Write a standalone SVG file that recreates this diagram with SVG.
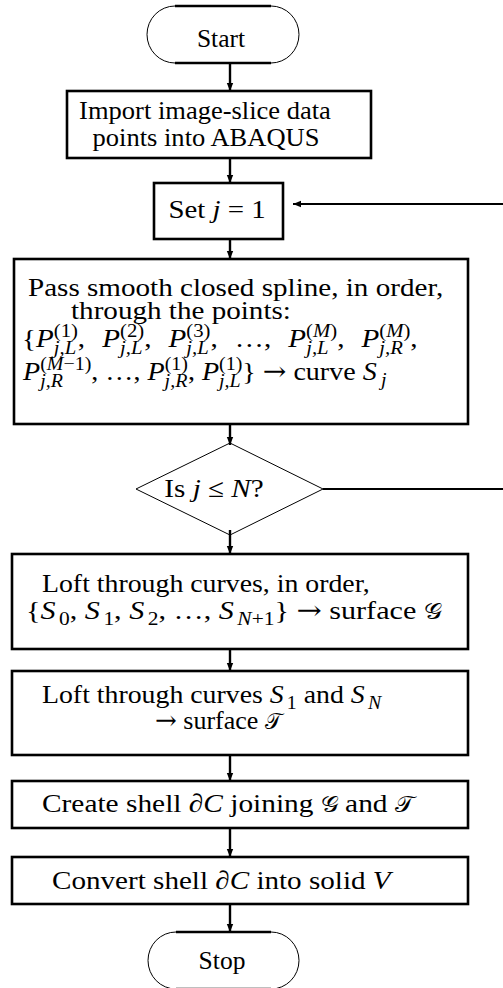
<svg xmlns="http://www.w3.org/2000/svg" width="503" height="988" viewBox="0 0 503 988">
<style>
.t{font-family:"Liberation Serif","Times New Roman",serif;font-size:26px;fill:#000}
.i{font-style:italic}
.s{font-size:18.5px}
.ar{font-family:"DejaVu Serif","Liberation Serif",serif;font-style:normal}
.box{fill:#fff;stroke:#000;stroke-width:2.6}
.thin{fill:none;stroke:#000;stroke-width:1}
.thick{fill:none;stroke:#000;stroke-width:2.6}
.c{fill:none;stroke:#000;stroke-width:2.4}
.fb{fill:none;stroke:#000;stroke-width:1.8}
.cal{font-family:"DejaVu Serif","DejaVu Sans","Noto Sans",serif;font-style:normal;font-size:22px}
</style>
<defs>
<marker id="ah" markerUnits="userSpaceOnUse" markerWidth="9" markerHeight="8" refX="8" refY="4" orient="auto">
<path d="M0,0.8 L8,4 L0,7.2 z" fill="#000"/>
</marker>
</defs>
<rect width="503" height="988" fill="#fff"/>
<g id="connectors">
<line class="c" x1="230" y1="63" x2="230" y2="91" marker-end="url(#ah)"/>
<line class="c" x1="230" y1="158" x2="230" y2="183" marker-end="url(#ah)"/>
<line class="c" x1="230" y1="239" x2="230" y2="259" marker-end="url(#ah)"/>
<line class="c" x1="230" y1="424" x2="230" y2="445" marker-end="url(#ah)"/>
<line class="c" x1="230" y1="530" x2="230" y2="554" marker-end="url(#ah)"/>
<line class="c" x1="230" y1="649" x2="230" y2="671" marker-end="url(#ah)"/>
<line class="c" x1="230" y1="755" x2="230" y2="781" marker-end="url(#ah)"/>
<line class="c" x1="230" y1="828" x2="230" y2="857" marker-end="url(#ah)"/>
<line class="c" x1="230" y1="904" x2="230" y2="932" marker-end="url(#ah)"/>
<line class="fb" x1="323" y1="489" x2="503" y2="489"/>
<line class="fb" x1="503" y1="204" x2="293" y2="204" marker-end="url(#ah)"/>
</g>
<g id="start">
<path class="thin" d="M175,6 A28,28.5 0 0 0 175,63 M271,6 A28,28.5 0 0 1 271,63"/>
<path class="thick" d="M175,6 H271 M175,63 H271"/>
<text class="t" x="221" y="47" text-anchor="middle" style="font-size:25.5px">Start</text>
</g>
<g id="import">
<rect class="box" x="67" y="91" width="304" height="67"/>
<text class="t" x="205" y="119" text-anchor="middle" transform="matrix(1.02 0 0 1 -4.1 0)">Import image-slice data</text>
<text class="t" x="206" y="146" text-anchor="middle" transform="matrix(1.02 0 0 1 -4.12 0)">points into ABAQUS</text>
</g>
<g id="setj">
<rect class="box" x="154" y="183" width="129" height="56"/>
<text class="t" x="217" y="218" text-anchor="middle" transform="matrix(1.11 0 0 1 -23.87 0)">Set <tspan class="i">j</tspan> = 1</text>
</g>
<g id="spline">
<rect class="box" x="14" y="259" width="454" height="165"/>
<text class="t" x="28" y="296" transform="matrix(1.12 0 0 1 -3.36 0)">Pass smooth closed spline, in order,</text>
<text class="t" x="71" y="319" transform="matrix(1.12 0 0 1 -8.52 0)">through the points:</text>
<text class="t" x="22" y="347" transform="matrix(1.12 0 0 1 -2.64 0)">{<tspan class="i">P</tspan><tspan class="s" dy="-10">(1)</tspan><tspan class="s i" dx="-21.6" dy="17">j,L</tspan><tspan dx="1.5" dy="-7">, </tspan><tspan class="i" dx="8.8">P</tspan><tspan class="s" dy="-10">(2)</tspan><tspan class="s i" dx="-21.6" dy="17">j,L</tspan><tspan dx="1.5" dy="-7">, </tspan><tspan class="i" dx="8.8">P</tspan><tspan class="s" dy="-10">(3)</tspan><tspan class="s i" dx="-21.6" dy="17">j,L</tspan><tspan dx="1.5" dy="-7">, </tspan><tspan dx="8.8">…, </tspan><tspan class="i" dx="8.8">P</tspan><tspan class="s" dy="-10">(<tspan class="i">M</tspan>)</tspan><tspan class="s i" dx="-27.7" dy="17">j,L</tspan><tspan dx="7.6" dy="-7">, </tspan><tspan class="i" dx="8.8">P</tspan><tspan class="s" dy="-10">(<tspan class="i">M</tspan>)</tspan><tspan class="s i" dx="-27.7" dy="17">j,R</tspan><tspan dx="6.6" dy="-7">,</tspan></text>
<text class="t" x="23" y="380" transform="matrix(1.08 0 0 1 -1.84 0)"><tspan class="i">P</tspan><tspan class="s" dy="-10">(<tspan class="i">M</tspan>−1)</tspan><tspan class="s i" dx="-47.4" dy="17">j,R</tspan><tspan dx="26.3" dy="-7">, …, </tspan><tspan class="i">P</tspan><tspan class="s" dy="-10">(1)</tspan><tspan class="s i" dx="-21.6" dy="17">j,R</tspan><tspan dx="0.5" dy="-7">, </tspan><tspan class="i">P</tspan><tspan class="s" dy="-10">(1)</tspan><tspan class="s i" dx="-21.6" dy="17">j,L</tspan><tspan dx="1.5" dy="-7">} </tspan><tspan class="ar">→</tspan> curve <tspan class="i">S</tspan><tspan class="s i" dx="4" dy="6">j</tspan></text>
</g>
<g id="decision">
<polygon class="thin" points="230,443 323,489 230,535 136,489" fill="#fff"/>
<text class="t" x="214" y="497" text-anchor="middle" transform="matrix(1.12 0 0 1 -25.68 0)">Is <tspan class="i">j</tspan> ≤ <tspan class="i">N</tspan>?</text>
</g>
<g id="loft1">
<rect class="box" x="12" y="554" width="456" height="95"/>
<text class="t" x="42" y="592" transform="matrix(1.07 0 0 1 -2.94 0)">Loft through curves, in order,</text>
<text class="t" x="26" y="619" transform="matrix(1.16 0 0 1 -4.16 0)">{<tspan class="i">S</tspan><tspan class="s" dx="3" dy="6">0</tspan><tspan dy="-6">, </tspan><tspan class="i">S</tspan><tspan class="s" dx="3" dy="6">1</tspan><tspan dy="-6">, </tspan><tspan class="i">S</tspan><tspan class="s" dx="3" dy="6">2</tspan><tspan dy="-6">, …, </tspan><tspan class="i">S</tspan><tspan class="s" dx="3" dy="6"><tspan class="i">N</tspan>+1</tspan><tspan dy="-6">} </tspan><tspan class="ar">→</tspan> surface <tspan class="cal">𝒢</tspan></text>
</g>
<g id="loft2">
<rect class="box" x="12" y="671" width="456" height="84"/>
<text class="t" x="42" y="703" transform="matrix(1.07 0 0 1 -2.94 0)">Loft through curves <tspan class="i">S</tspan><tspan class="s" dx="3" dy="6">1</tspan><tspan dy="-6"> and </tspan><tspan class="i">S</tspan><tspan class="s i" dx="3" dy="6">N</tspan></text>
<text class="t" x="155" y="729"><tspan class="ar">→</tspan> surface <tspan class="cal">𝒯</tspan></text>
</g>
<g id="shell">
<rect class="box" x="12" y="781" width="456" height="47"/>
<text class="t" x="42" y="812" transform="matrix(1.13 0 0 1 -5.46 0)">Create shell ∂<tspan class="i">C</tspan> joining <tspan class="cal">𝒢</tspan> and <tspan class="cal">𝒯</tspan></text>
</g>
<g id="solid">
<rect class="box" x="12" y="857" width="456" height="47"/>
<text class="t" x="52" y="889" transform="matrix(1.12 0 0 1 -6.24 0)">Convert shell ∂<tspan class="i">C</tspan> into solid <tspan class="i">V</tspan></text>
</g>
<g id="stop">
<path class="thin" d="M176,932 A28,28.5 0 0 0 176,989 M271,932 A28,28.5 0 0 1 271,989"/>
<path class="thick" d="M176,932 H271 M176,989 H271"/>
<text class="t" x="222" y="969" text-anchor="middle" style="font-size:25.5px">Stop</text>
</g>
</svg>
